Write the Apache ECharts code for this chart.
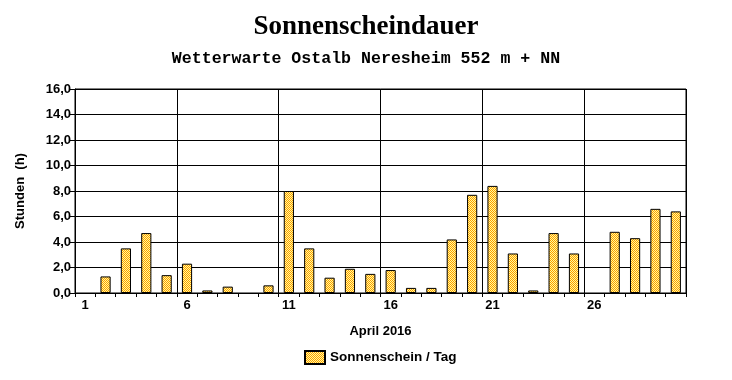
<!DOCTYPE html>
<html>
<head>
<meta charset="utf-8">
<script src="https://cdn.jsdelivr.net/npm/echarts@6/dist/echarts.min.js"></script>
<style>
html,body{margin:0;padding:0;background:#fff;}
#chart{width:732px;height:380px;}
</style>
</head>
<body>
<div id="chart"></div>
<script>
const days = ['1','2','3','4','5','6','7','8','9','10','11','12','13','14','15','16','17','18','19','20','21','22','23','24','25','26','27','28','29','30'];
const sunshine = [0,1.3,3.5,4.7,1.4,2.3,0.2,0.5,0,0.6,8.0,3.5,1.2,1.9,1.5,1.8,0.4,0.4,4.2,7.7,8.4,3.1,0.2,4.7,3.1,0,4.8,4.3,6.6,6.4];
const seriesName = 'Sonnenschein / Tag';
const titleText = 'Sonnenscheindauer';
const subtitleText = 'Wetterwarte Ostalb Neresheim 552 m + NN';
const xName = 'April 2016';
const yName = 'Stunden  (h)';

// checkered fill pattern
const pc = document.createElement('canvas');
pc.width = 2; pc.height = 2;
const pctx = pc.getContext('2d');
pctx.fillStyle = '#ffff99'; pctx.fillRect(0,0,2,2);
pctx.fillStyle = '#ff9900'; pctx.fillRect(0,0,1,1); pctx.fillRect(1,1,1,1);
const fill = {image: pc, repeat: 'repeat'};

const chart = echarts.init(document.getElementById('chart'), null, {renderer:'canvas'});
const labelFont = {fontFamily:'Liberation Sans, Arial, sans-serif', fontWeight:'bold', fontSize:13, color:'#000'};
chart.setOption({
  animation:false,
  backgroundColor:'#fff',
  title:[
    {text:titleText, left:'center', top:9, textStyle:{fontFamily:'Liberation Serif, Times New Roman, serif', fontWeight:'bold', fontSize:27, color:'#000'}},
    {text:subtitleText, left:'center', top:45, textStyle:{fontFamily:'Liberation Mono, Courier New, monospace', fontWeight:'bold', fontSize:16.6, color:'#000'}}
  ],
  legend:{
    bottom:10, left:299, itemWidth:20, itemHeight:13, itemGap:8,
    textStyle:Object.assign({}, labelFont, {fontSize:13.5}),
    data:[{name:seriesName, icon:'rect'}]
  },
  grid:{left:75, right:46, top:89, bottom:87, show:true, borderColor:'#000', borderWidth:1, containLabel:false},
  xAxis:{
    type:'category', data:days, boundaryGap:true,
    name:xName, nameLocation:'middle', nameGap:32, nameTextStyle:labelFont,
    axisLine:{lineStyle:{color:'#000', width:1}},
    axisTick:{show:true, interval:0, length:4, lineStyle:{color:'#000'}},
    axisLabel:Object.assign({interval:function(i){return i%5===0;}, margin:6}, labelFont),
    splitLine:{show:true, interval:function(i){return i%5===0;}, lineStyle:{color:'#000', width:1}}
  },
  yAxis:{
    type:'value', min:0, max:16, interval:2,
    name:yName, nameLocation:'middle', nameGap:48, nameRotate:90, nameTextStyle:labelFont,
    axisLine:{show:true, lineStyle:{color:'#000', width:1}},
    axisTick:{show:true, length:5, lineStyle:{color:'#000'}},
    axisLabel:Object.assign({margin:4, formatter:function(v){return v.toFixed(1).replace('.', ',');}}, labelFont),
    splitLine:{show:true, lineStyle:{color:'#000', width:1}}
  },
  series:[{
    name:seriesName, type:'bar', data:sunshine.map(function(v){return v === 0 ? '-' : v;}), barWidth:'50%',
    itemStyle:{color:fill, borderColor:'#000', borderWidth:1}
  }]
});
</script>
</body>
</html>
